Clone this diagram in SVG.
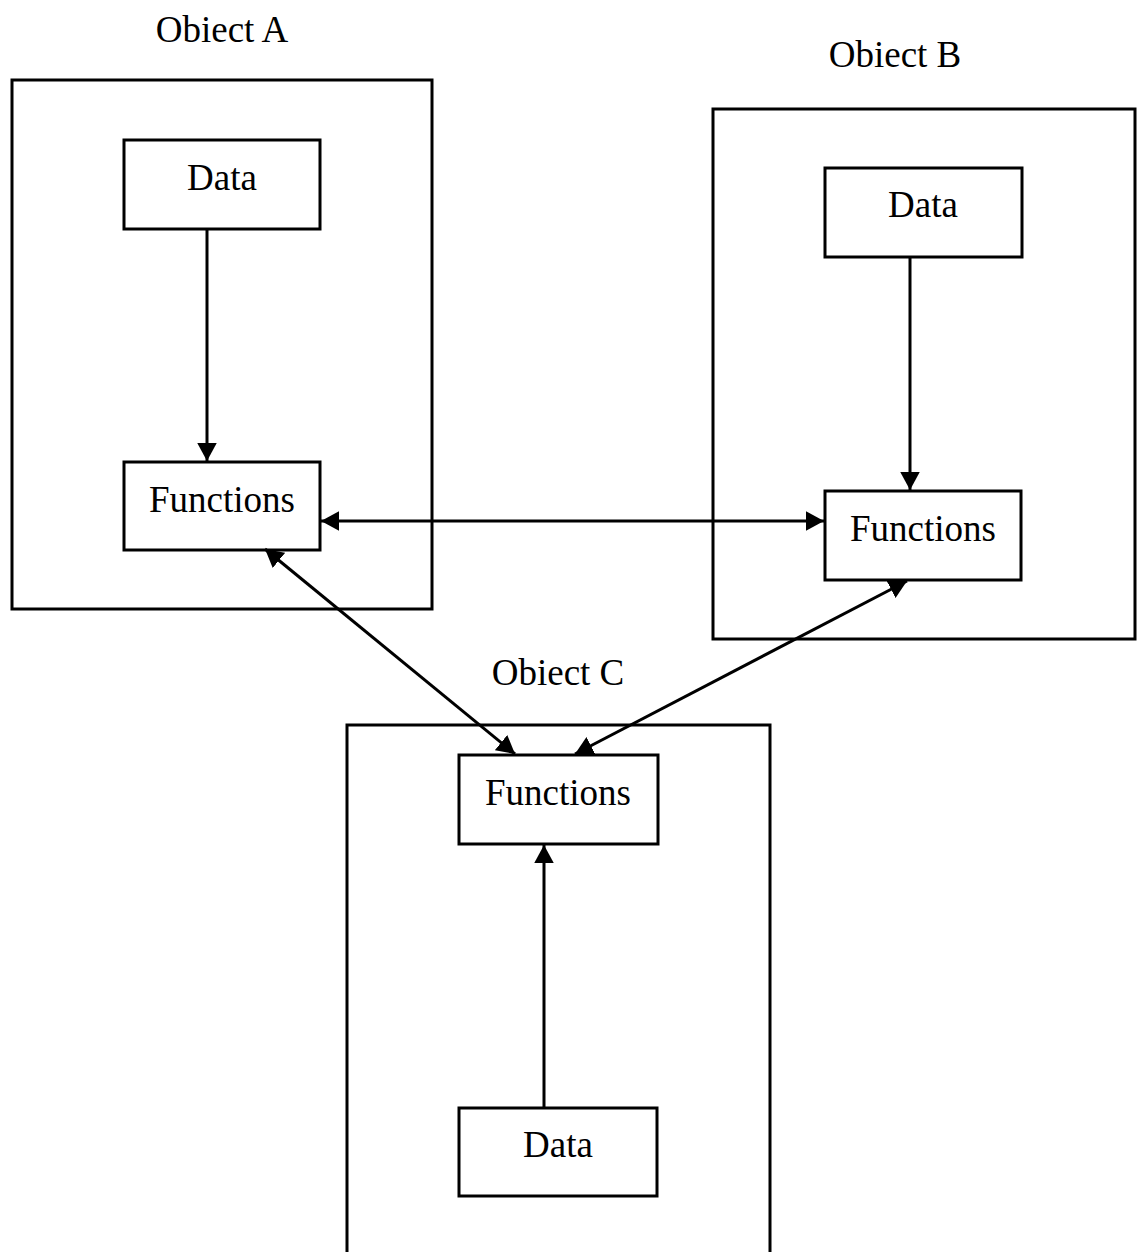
<svg xmlns="http://www.w3.org/2000/svg" width="1145" height="1252" viewBox="0 0 1145 1252">
<style>
.box{fill:none;stroke:#000;stroke-width:3}
.node{fill:#fff;stroke:#000;stroke-width:3}
.lbl{font-family:"Liberation Serif","Times New Roman",serif;font-size:37px;fill:#000;text-anchor:middle}
.con{fill:none;stroke:#000;stroke-width:3}
</style>
<defs>
<marker id="ah" viewBox="0 0 12 13" refX="12" refY="6.5" markerWidth="6" markerHeight="6.5" markerUnits="strokeWidth" orient="auto-start-reverse">
<path d="M0,0 L12,6.5 L0,13 z" fill="#000"/>
</marker>
</defs>
<rect width="1145" height="1252" fill="#fff"/>
<g id="objectA">
<text class="lbl" x="222" y="42">Obiect A</text>
<rect class="box" x="12" y="80" width="420" height="529"/>
</g>
<g id="objectB">
<text class="lbl" x="895" y="67">Obiect B</text>
<rect class="box" x="713" y="109" width="422" height="530"/>
</g>
<g id="objectC">
<text class="lbl" x="558" y="685">Obiect C</text>
<rect class="box" x="347" y="725" width="423" height="540"/>
</g>
<g id="dataA"><rect class="node" x="124" y="140" width="196" height="89"/><text class="lbl" x="222" y="190">Data</text></g>
<g id="funcA"><rect class="node" x="124" y="462" width="196" height="88"/><text class="lbl" x="222" y="512">Functions</text></g>
<g id="dataB"><rect class="node" x="825" y="168" width="197" height="89"/><text class="lbl" x="923" y="217">Data</text></g>
<g id="funcB"><rect class="node" x="825" y="491" width="196" height="89"/><text class="lbl" x="923" y="541">Functions</text></g>
<g id="funcC"><rect class="node" x="459" y="755" width="199" height="89"/><text class="lbl" x="558" y="805">Functions</text></g>
<g id="dataC"><rect class="node" x="459" y="1108" width="198" height="88"/><text class="lbl" x="558" y="1157">Data</text></g>
<g id="connectors">
<line class="con" x1="207" y1="229" x2="207" y2="461" marker-end="url(#ah)"/>
<line class="con" x1="910" y1="257" x2="910" y2="490" marker-end="url(#ah)"/>
<line class="con" x1="544" y1="1108" x2="544" y2="845" marker-end="url(#ah)"/>
<line class="con" x1="321" y1="521" x2="824" y2="521" marker-start="url(#ah)" marker-end="url(#ah)"/>
<line class="con" x1="265" y1="549" x2="515" y2="754" marker-start="url(#ah)" marker-end="url(#ah)"/>
<line class="con" x1="907" y1="581" x2="575" y2="754" marker-start="url(#ah)" marker-end="url(#ah)"/>
</g>
</svg>
